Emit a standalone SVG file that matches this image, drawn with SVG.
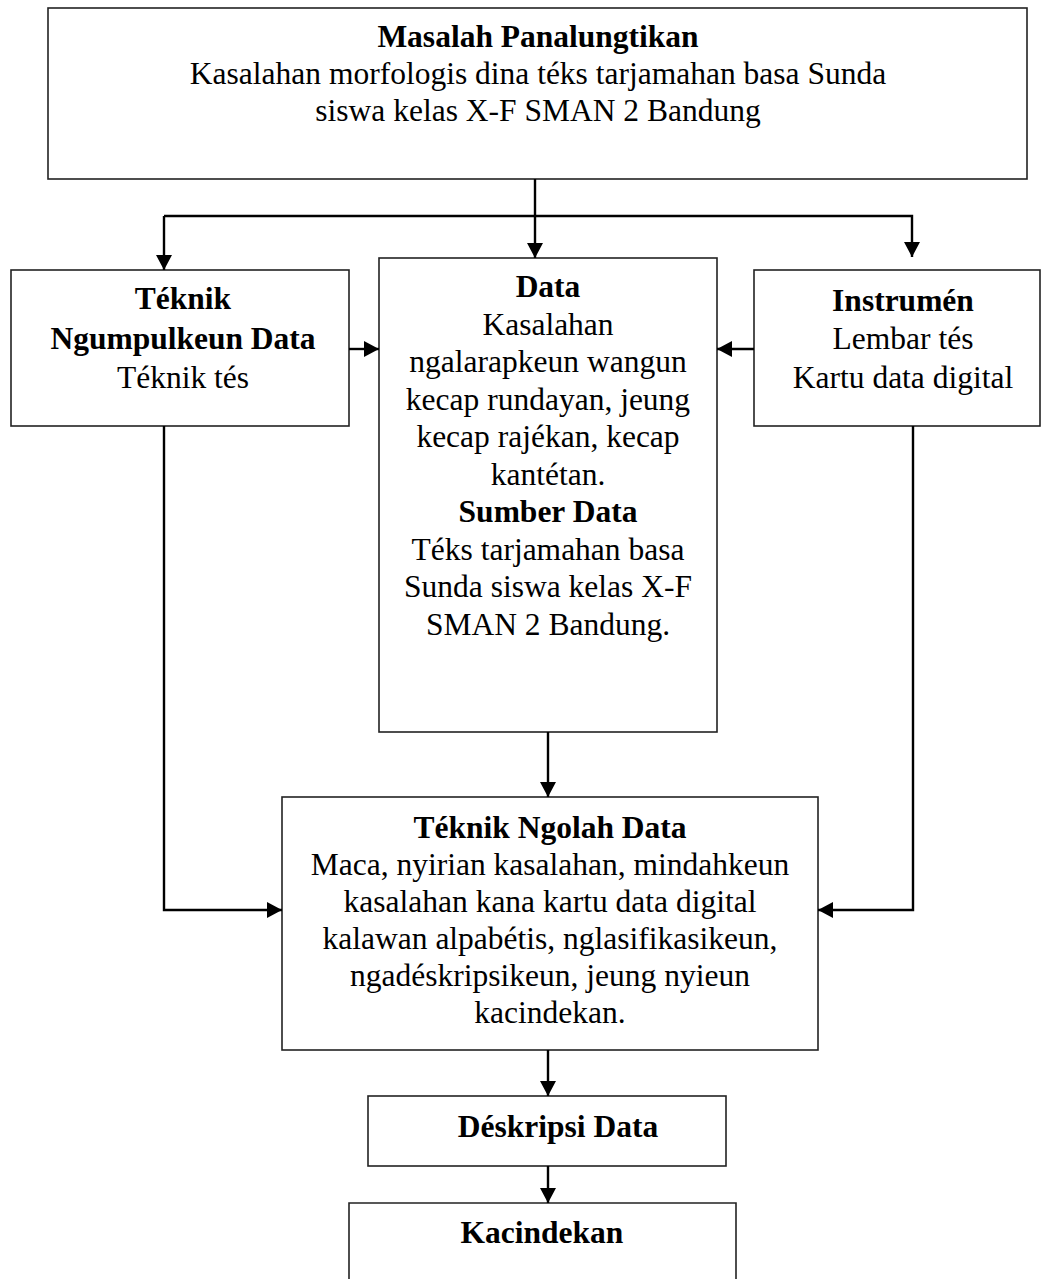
<svg xmlns="http://www.w3.org/2000/svg" width="1044" height="1279" viewBox="0 0 1044 1279">
<style>
.box{fill:#fff;stroke:#222;stroke-width:1.6}
.t{font-family:"Liberation Serif","Times New Roman",serif;font-size:31.5px;fill:#000;text-anchor:middle}
.b{font-weight:bold}
.c{fill:none;stroke:#000;stroke-width:2.4}
</style>
<defs>
<marker id="ah" markerUnits="userSpaceOnUse" markerWidth="16" markerHeight="16" viewBox="0 0 16 16" refX="15" refY="8" orient="auto">
<path d="M0,0 L15,8 L0,16 Z" fill="#000"/>
</marker>
</defs>
<rect width="1044" height="1279" fill="#fff"/>
<g id="masalah">
<rect class="box" x="48" y="8" width="979" height="171"/>
<text class="t b" x="538" y="47">Masalah Panalungtikan</text>
<text class="t" x="538" y="84">Kasalahan morfologis dina téks tarjamahan basa Sunda</text>
<text class="t" x="538" y="121">siswa kelas X-F SMAN 2 Bandung</text>
</g>
<g id="teknik-ngumpulkeun">
<rect class="box" x="11" y="270" width="338" height="156"/>
<text class="t b" x="183" y="309">Téknik</text>
<text class="t b" x="183" y="349">Ngumpulkeun Data</text>
<text class="t" x="183" y="388">Téknik tés</text>
</g>
<g id="data">
<rect class="box" x="379" y="258" width="338" height="474"/>
<text class="t b" x="548" y="297">Data</text>
<text class="t" x="548" y="334.5">Kasalahan</text>
<text class="t" x="548" y="372">ngalarapkeun wangun</text>
<text class="t" x="548" y="409.5">kecap rundayan, jeung</text>
<text class="t" x="548" y="447">kecap rajékan, kecap</text>
<text class="t" x="548" y="484.5">kantétan.</text>
<text class="t b" x="548" y="522">Sumber Data</text>
<text class="t" x="548" y="559.5">Téks tarjamahan basa</text>
<text class="t" x="548" y="597">Sunda siswa kelas X-F</text>
<text class="t" x="548" y="634.5">SMAN 2 Bandung.</text>
</g>
<g id="instrumen">
<rect class="box" x="754" y="270" width="286" height="156"/>
<text class="t b" x="903" y="311">Instrumén</text>
<text class="t" x="903" y="349">Lembar tés</text>
<text class="t" x="903" y="388">Kartu data digital</text>
</g>
<g id="teknik-ngolah">
<rect class="box" x="282" y="797" width="536" height="253"/>
<text class="t b" x="550" y="838">Téknik Ngolah Data</text>
<text class="t" x="550" y="875">Maca, nyirian kasalahan, mindahkeun</text>
<text class="t" x="550" y="912">kasalahan kana kartu data digital</text>
<text class="t" x="550" y="949">kalawan alpabétis, nglasifikasikeun,</text>
<text class="t" x="550" y="986">ngadéskripsikeun, jeung nyieun</text>
<text class="t" x="550" y="1023">kacindekan.</text>
</g>
<g id="deskripsi">
<rect class="box" x="368" y="1096" width="358" height="70"/>
<text class="t b" x="558" y="1137">Déskripsi Data</text>
</g>
<g id="kacindekan">
<path class="box" d="M349,1285 V1203 H736 V1285"/>
<text class="t b" x="542" y="1243">Kacindekan</text>
</g>
<g id="connectors">
<path class="c" d="M535,179 V216"/>
<path class="c" d="M164,216 H912 V257" marker-end="url(#ah)"/>
<path class="c" d="M164,216 V270" marker-end="url(#ah)"/>
<path class="c" d="M535,216 V258" marker-end="url(#ah)"/>
<path class="c" d="M349,349 H379" marker-end="url(#ah)"/>
<path class="c" d="M754,349 H717" marker-end="url(#ah)"/>
<path class="c" d="M548,732 V797" marker-end="url(#ah)"/>
<path class="c" d="M164,426 V910 H282" marker-end="url(#ah)"/>
<path class="c" d="M913,426 V910 H818" marker-end="url(#ah)"/>
<path class="c" d="M548,1050 V1096" marker-end="url(#ah)"/>
<path class="c" d="M548,1166 V1203" marker-end="url(#ah)"/>
</g>
</svg>
